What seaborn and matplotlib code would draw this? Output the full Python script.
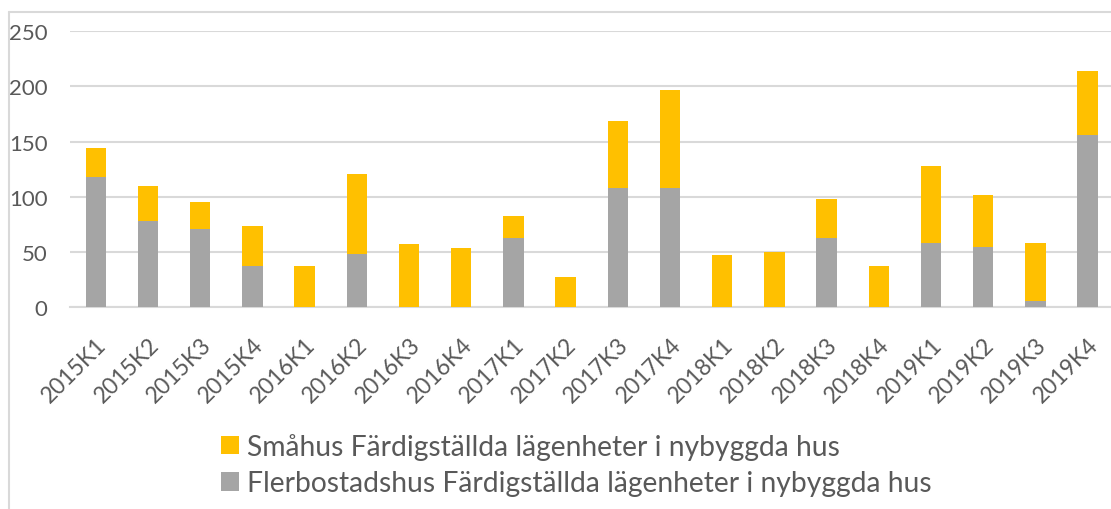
import matplotlib
matplotlib.use("Agg")
import matplotlib.pyplot as plt
import seaborn as sns
import pandas as pd
from matplotlib.patches import Patch
from matplotlib.lines import Line2D

quarters = ['2015K1', '2015K2', '2015K3', '2015K4',
            '2016K1', '2016K2', '2016K3', '2016K4',
            '2017K1', '2017K2', '2017K3', '2017K4',
            '2018K1', '2018K2', '2018K3', '2018K4',
            '2019K1', '2019K2', '2019K3', '2019K4']
flerbostadshus = [118, 78, 71, 37, 0, 48, 0, 0, 63, 0,
                  108, 108, 0, 0, 63, 0, 58, 55, 6, 156]
smahus = [26, 32, 24, 37, 37, 73, 57, 54, 20, 27,
          61, 89, 47, 50, 35, 37, 70, 47, 52, 58]
yticks = [0, 50, 100, 150, 200, 250]
label_small = 'Småhus Färdigställda lägenheter i nybyggda hus'
label_multi = 'Flerbostadshus Färdigställda lägenheter i nybyggda hus'

YELLOW = '#FFC000'
GREY = '#A5A5A5'
TEXT = '#595959'
GRID = '#D9D9D9'

df = pd.DataFrame({'kvartal': quarters,
                   'fler': flerbostadshus,
                   'sma': smahus})
df['total'] = df['fler'] + df['sma']

sns.set_theme(style='white')
plt.rcParams['font.family'] = ['Lato', 'DejaVu Sans']

fig = plt.figure(figsize=(11.11, 5.10), dpi=100)
ax = fig.add_axes([69.7 / 1111, 1 - 308.3 / 510, 1044 / 1111, 276.3 / 510])

sns.barplot(data=df, x='kvartal', y='total', color=YELLOW, width=0.39,
            saturation=1, ax=ax, zorder=3, linewidth=0)
sns.barplot(data=df, x='kvartal', y='fler', color=GREY, width=0.39,
            saturation=1, ax=ax, zorder=4, linewidth=0)

ax.set_xlim(-0.5, 19.5)
ax.set_ylim(0, 250)
ax.set_yticks(yticks)
ax.set_yticklabels([str(v) for v in yticks])
ax.set_xlabel('')
ax.set_ylabel('')
for s in ['top', 'right', 'left']:
    ax.spines[s].set_visible(False)
ax.spines['bottom'].set_color(GRID)
ax.spines['bottom'].set_linewidth(1.5)
ax.grid(axis='y', color=GRID, linewidth=1.5, zorder=0)
ax.set_axisbelow(True)
ax.tick_params(axis='y', length=0, pad=16, labelsize=16, labelcolor=TEXT)
ax.tick_params(axis='x', length=0, pad=19, labelsize=16.5, labelcolor=TEXT)
for lab in ax.get_xticklabels():
    lab.set_rotation(45)
    lab.set_ha('right')
    lab.set_va('top')
    lab.set_rotation_mode('anchor')

handles = [Patch(facecolor=YELLOW, edgecolor='none'),
           Patch(facecolor=GREY, edgecolor='none')]
fig.legend(handles, [label_small, label_multi], loc='upper left',
           bbox_to_anchor=(221 / 1111, 1 - 434 / 510), frameon=False,
           fontsize=20.3, handlelength=0.65, handleheight=0.65,
           handletextpad=0.28, labelspacing=0.36, borderpad=0,
           borderaxespad=0, labelcolor=TEXT)

fig.add_artist(Line2D([9 / 1111, 9 / 1111], [0, 1 - 13 / 510],
                      color=GRID, linewidth=1.5, transform=fig.transFigure))
fig.add_artist(Line2D([9 / 1111, 1], [1 - 13 / 510, 1 - 13 / 510],
                      color=GRID, linewidth=1.5, transform=fig.transFigure))

fig.savefig('out.png', dpi=100)
